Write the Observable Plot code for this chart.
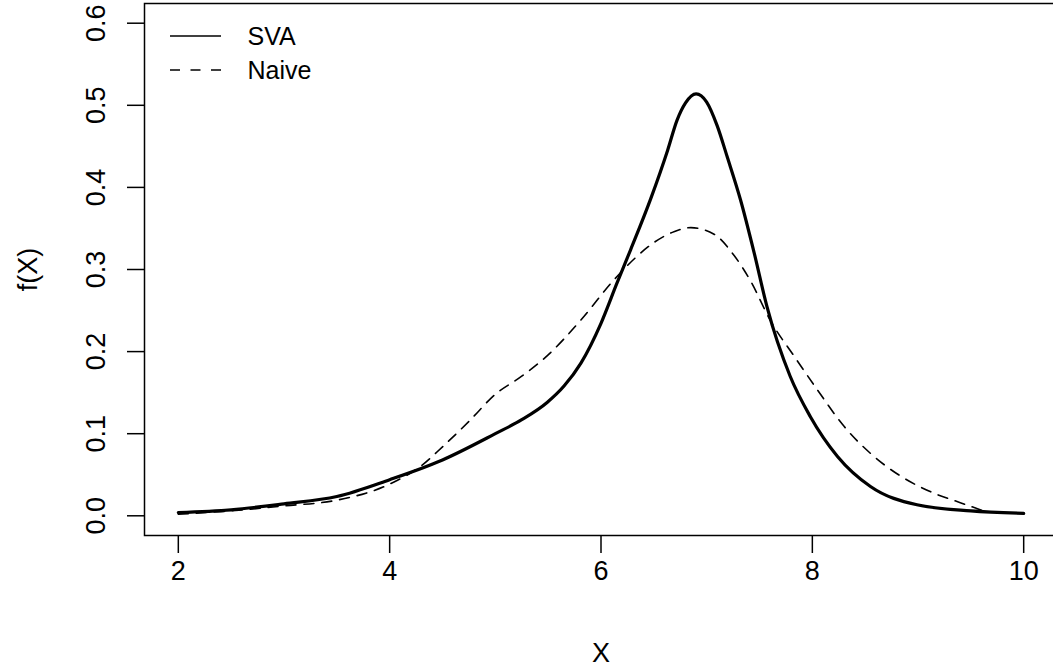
<!DOCTYPE html>
<html>
<head>
<meta charset="utf-8">
<script src="https://cdn.jsdelivr.net/npm/d3@7"></script>
<script src="https://cdn.jsdelivr.net/npm/@observablehq/plot@0.6"></script>
<style>
  html, body { margin: 0; padding: 0; background: #fff; }
  svg { display: block; }
</style>
</head>
<body>
<div id="chart"></div>
<script>
// SVA density (solid)
const svaX = [2.0, 2.5, 3.0, 3.5, 4.0, 4.5, 5.0, 5.25, 5.49, 5.65, 5.81, 6.0, 6.15, 6.28, 6.47, 6.63, 6.72, 6.8, 6.9, 7.0, 7.1, 7.195, 7.32, 7.45, 7.57, 7.79, 7.98, 8.24, 8.55, 8.99, 9.5, 10.0];
const svaY = [0.004, 0.0073, 0.0146, 0.0235, 0.044, 0.068, 0.100, 0.117, 0.138, 0.158, 0.186, 0.2345, 0.283, 0.324, 0.386, 0.445, 0.482, 0.503, 0.514, 0.504, 0.475, 0.437, 0.385, 0.320, 0.255, 0.170, 0.121, 0.072, 0.0357, 0.0134, 0.006, 0.003];
// Naive density (dashed)
const naiveX = [2.0, 2.5, 3.0, 3.5, 3.95, 4.07, 4.29, 4.5, 4.75, 5.0, 5.25, 5.5, 5.81, 6.12, 6.34, 6.47, 6.69, 6.85, 7.07, 7.26, 7.42, 7.6, 7.83, 8.05, 8.3, 8.55, 8.84, 9.15, 9.4, 9.62];
const naiveY = [0.002, 0.006, 0.012, 0.019, 0.0357, 0.043, 0.060, 0.084, 0.115, 0.148, 0.170, 0.196, 0.2385, 0.287, 0.316, 0.330, 0.346, 0.351, 0.343, 0.317, 0.285, 0.2385, 0.194, 0.153, 0.109, 0.076, 0.048, 0.0276, 0.016, 0.006];

const xTicks = [2, 4, 6, 8, 10];
const yTicks = [0, 0.1, 0.2, 0.3, 0.4, 0.5, 0.6];
const seriesNames = ["SVA", "Naive"];
const xTitle = "X";
const yTitle = "f(X)";

const sva = svaX.map((x, i) => ({x, y: svaY[i]}));
const naive = naiveX.map((x, i) => ({x, y: naiveY[i]}));

const FONT = "'Liberation Sans', Arial, Helvetica, sans-serif";

const chart = Plot.plot({
  width: 1053,
  height: 667,
  marginLeft: 144,
  marginRight: -4,
  marginTop: 3,
  marginBottom: 132,
  style: {fontFamily: FONT, background: "#fff", color: "black"},
  x: {domain: [1.68, 10.32]},
  y: {domain: [-0.024, 0.624]},
  marks: [
    Plot.frame({stroke: "black", strokeWidth: 1.5}),
    Plot.axisX({ticks: xTicks, tickSize: 18, tickPadding: 7, fontSize: 27, label: null, strokeWidth: 1.5, tickFormat: d3.format("d")}),
    Plot.axisY({ticks: yTicks, tickSize: 17, tickFormat: () => "", label: null, strokeWidth: 1.5}),
    Plot.text(yTicks, {y: d => d, text: d => d3.format(".1f")(d), frameAnchor: "left", dx: -48, rotate: -90, textAnchor: "middle", lineAnchor: "middle", fontSize: 27, fill: "black"}),
    Plot.text([yTitle], {frameAnchor: "left", dx: -116, rotate: -90, textAnchor: "middle", lineAnchor: "middle", fontSize: 27, fill: "black"}),
    Plot.text([xTitle], {frameAnchor: "bottom", dy: 118, textAnchor: "middle", lineAnchor: "middle", fontSize: 27, fill: "black"}),
    Plot.line(naive, {x: "x", y: "y", stroke: "black", strokeWidth: 1.6, strokeDasharray: "10,8", curve: "monotone-x"}),
    Plot.line(sva, {x: "x", y: "y", stroke: "black", strokeWidth: 3.2, curve: "monotone-x"}),
    Plot.text([seriesNames[0]], {frameAnchor: "top-left", dx: 103, dy: 33, textAnchor: "start", lineAnchor: "middle", fontSize: 25, fill: "black"}),
    Plot.text([seriesNames[1]], {frameAnchor: "top-left", dx: 103, dy: 67, textAnchor: "start", lineAnchor: "middle", fontSize: 25, fill: "black"})
  ]
});

// legend key lines
const svg = d3.select(chart);
svg.append("line").attr("x1", 170).attr("x2", 221).attr("y1", 36).attr("y2", 36)
  .attr("stroke", "black").attr("stroke-width", 1.6);
svg.append("line").attr("x1", 170).attr("x2", 221).attr("y1", 70).attr("y2", 70)
  .attr("stroke", "black").attr("stroke-width", 1.6).attr("stroke-dasharray", "10,10.5");

document.getElementById("chart").appendChild(chart);
</script>
</body>
</html>
